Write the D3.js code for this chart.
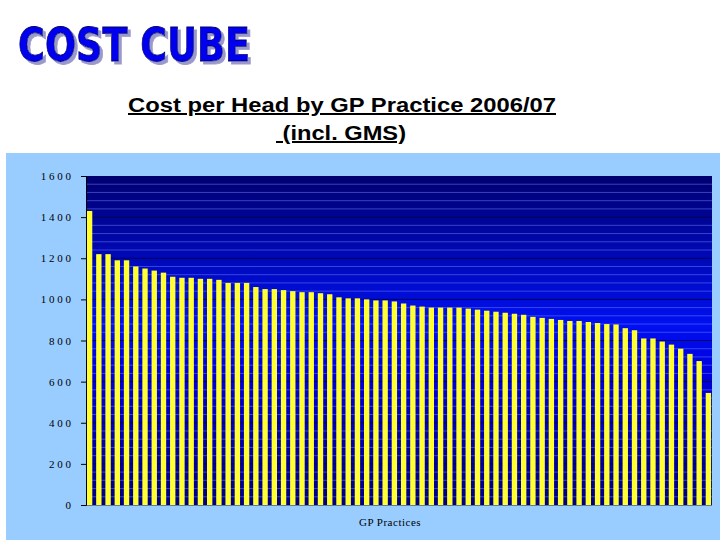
<!DOCTYPE html>
<html><head><meta charset="utf-8">
<script src="https://cdn.jsdelivr.net/npm/d3@7"></script>
<style>body{margin:0;background:#fff}</style>
</head><body><svg id="chart" width="728" height="546"></svg>
<script>
const practiceCosts = [1430, 1220, 1220, 1190, 1190, 1160, 1150, 1140, 1130, 1110, 1105, 1105, 1100, 1100, 1095,
    1080, 1080, 1080, 1060, 1050, 1050, 1045, 1040, 1035, 1035, 1030, 1025, 1010, 1005, 1005, 1000, 995, 995,
    990, 980, 970, 965, 960, 960, 960, 960, 955, 950, 945, 940, 935, 930, 925, 915, 910, 905, 900, 895, 895,
    890, 885, 880, 878, 860, 850, 810, 810, 795, 780, 760, 735, 700, 545]
const yTicks = [0, 200, 400, 600, 800, 1000, 1200, 1400, 1600]

const svg = d3.select('#chart')
const plotLeft = 86, plotRight = 712, plotTop = 176, plotBottom = 505

const defs = svg.append('defs')
const grad = defs.append('linearGradient').attr('id', 'bg').attr('x1', 0).attr('y1', 0).attr('x2', 0).attr('y2', 1)
grad.append('stop').attr('offset', '0%').attr('stop-color', '#000070')
grad.append('stop').attr('offset', '45%').attr('stop-color', '#0010f0')
grad.append('stop').attr('offset', '60%').attr('stop-color', '#0000dd')
grad.append('stop').attr('offset', '100%').attr('stop-color', '#000080')

const shadow = defs.append('filter').attr('id', 'sh')
shadow.append('feDropShadow').attr('dx', 3).attr('dy', 3).attr('stdDeviation', 0.5).attr('flood-color', '#9999cc')

svg.append('text').attr('x', 18).attr('y', 61).text('COST CUBE')
    .attr('font-family', 'DejaVu Sans').attr('font-weight', 'bold').attr('font-size', 46)
    .attr('fill', '#0000ee').attr('stroke', '#000066').attr('stroke-width', 0.8)
    .attr('textLength', 232).attr('lengthAdjust', 'spacingAndGlyphs').attr('filter', 'url(#sh)')

svg.append('text').attr('x', 128).attr('y', 112)
    .attr('font-family', 'Liberation Sans').attr('font-weight', 'bold').attr('font-size', 20)
    .attr('textLength', 428).attr('lengthAdjust', 'spacingAndGlyphs')
    .attr('text-decoration', 'underline').text('Cost per Head by GP Practice 2006/07')
svg.append('text').attr('x', 276).attr('y', 140)
    .attr('font-family', 'Liberation Sans').attr('font-weight', 'bold').attr('font-size', 20)
    .attr('textLength', 130).attr('lengthAdjust', 'spacingAndGlyphs')
    .attr('text-decoration', 'underline').text('\u00a0(incl. GMS)')

svg.append('rect').attr('x', 6).attr('y', 153).attr('width', 714).attr('height', 387).attr('fill', '#99ccff')
svg.append('rect').attr('x', plotLeft).attr('y', plotTop).attr('width', plotRight - plotLeft).attr('height', plotBottom - plotTop).attr('fill', 'url(#bg)')

const x = d3.scaleBand().domain(d3.range(practiceCosts.length)).range([plotLeft, plotRight]).paddingInner(0.42).paddingOuter(0.1)
const y = d3.scaleLinear().domain([0, 1600]).range([plotBottom, plotTop])

svg.append('g').selectAll('line').data(d3.range(0, 1600, 40)).enter().append('line')
    .attr('x1', plotLeft).attr('x2', plotRight).attr('y1', (d) => y(d)).attr('y2', (d) => y(d))
    .attr('stroke', (d) => d % 200 === 0 ? '#000040' : '#6f7fff').attr('stroke-opacity', (d) => d % 200 === 0 ? 0.8 : 0.5)
    .attr('stroke-width', 1)

svg.selectAll('rect.bar').data(practiceCosts).enter().append('rect').attr('class', 'bar')
    .attr('x', (d, i) => x(i)).attr('width', x.bandwidth())
    .attr('y', (d) => y(d)).attr('height', (d) => plotBottom - y(d))
    .attr('fill', '#ffff33')

const yAxis = d3.axisLeft(y).tickValues(yTicks).tickSize(5).tickPadding(10)
    .tickFormat((d) => String(d).split('').join(' '))
const ga = svg.append('g').attr('transform', `translate(${plotLeft},0)`).call(yAxis)
ga.select('.domain').attr('stroke', '#000')
ga.selectAll('text').attr('font-family', 'Liberation Serif').attr('font-size', 11).attr('fill', '#000')

svg.append('text').attr('x', 390).attr('y', 526).attr('text-anchor', 'middle')
    .attr('font-family', 'Liberation Serif').attr('font-size', 11).attr('letter-spacing', 0.5).text('GP Practices')
</script></body></html>
